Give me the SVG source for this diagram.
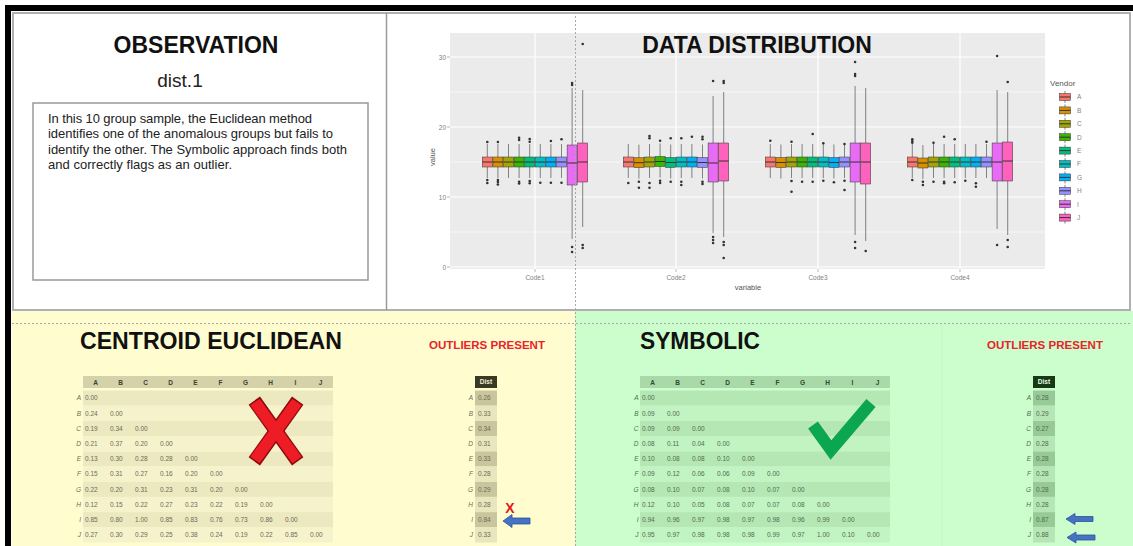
<svg xmlns="http://www.w3.org/2000/svg" xmlns:xlink="http://www.w3.org/1999/xlink" width="1133" height="546" viewBox="0 0 1133 546">
  <style>
    .sans { font-family: "Liberation Sans", Arial, sans-serif; }
    .h1 { font-family: "Liberation Sans", Arial, sans-serif; font-weight: bold; font-size: 23px; fill: #111; }
    .red { font-family: "Liberation Sans", Arial, sans-serif; font-weight: bold; font-size: 11.5px; fill: #E8232A; }
    .body { font-family: "Liberation Sans", Arial, sans-serif; font-size: 13px; fill: #222; }
    .ax { font-family: "Liberation Sans", Arial, sans-serif; font-size: 6.5px; fill: #7f7f7f; }
    .axt { font-family: "Liberation Sans", Arial, sans-serif; font-size: 7.5px; fill: #555555; }
    .gmaj { stroke: #fff; stroke-width: 1.2; }
    .gmin { stroke: #fff; stroke-width: 0.6; }
    .wh { stroke: #555; stroke-width: 0.7; }
    .bxr { stroke: #333; stroke-width: 0.5; }
    .md { stroke: #333; stroke-width: 1; }
    .pt { fill: #333; }
    .val { font-family: "Liberation Sans", Arial, sans-serif; font-size: 6.5px; }
    .rl { font-family: "Liberation Sans", Arial, sans-serif; font-size: 6.5px; font-style: italic; text-anchor: end; }
    .hd { font-family: "Liberation Sans", Arial, sans-serif; font-size: 6.5px; font-weight: bold; text-anchor: middle; }
    .yv { fill: #6e6c58; }
    .gv { fill: #4f6e4f; }
    .arrow { fill: #4472C4; stroke: #2F528F; stroke-width: 0.8; }
    .dot { stroke: #a8a8a8; stroke-width: 1; stroke-dasharray: 2 2; fill: none; }
  </style>
  <defs>
    <!-- standard narrow box: whisker, IQR box and median -->
    <g id="bx">
      <line x1="5" y1="144" x2="5" y2="178" class="wh"/>
      <rect x="0" y="157" width="10" height="10" class="bxr"/>
      <line x1="0" y1="162" x2="10" y2="162" class="md"/>
    </g>
    <g id="key">
      <line x1="5.5" y1="-6" x2="5.5" y2="6" class="wh"/>
      <rect x="0" y="-3.5" width="11" height="7" class="bxr"/>
      <line x1="0" y1="0" x2="11" y2="0" class="md"/>
    </g>
  </defs>

  <!-- page background and frame -->
  <g id="frame">
    <rect x="0" y="0" width="1133" height="546" fill="#fff"/>
    <rect x="13" y="13" width="1117" height="297" fill="#fff" stroke="#b0b0b0" stroke-width="2"/>
    <line x1="386.5" y1="13" x2="386.5" y2="310" stroke="#9a9a9a" stroke-width="1.5"/>
    <rect x="12" y="311" width="563" height="235" fill="#FFFDCF"/>
    <rect x="575" y="311" width="558" height="235" fill="#CCFDCC"/>
    <line x1="942" y1="323" x2="942" y2="546" stroke="#c3f5c3" stroke-width="1"/>
    <rect x="5" y="5" width="1128" height="6" fill="#000"/>
    <rect x="5" y="5" width="6" height="541" fill="#000"/>
  </g>

  <!-- observation panel -->
  <g id="observation">
    <text x="196" y="53" class="h1" text-anchor="middle" font-size="23.5">OBSERVATION</text>
    <text x="180" y="87" class="sans" font-size="19" fill="#222" text-anchor="middle">dist.1</text>
    <rect x="33" y="103" width="335" height="177" fill="#fff" stroke="#999" stroke-width="1.5"/>
    <text class="body" x="48" y="123" textLength="264" lengthAdjust="spacing">In this 10 group sample, the Euclidean method</text>
    <text class="body" x="48" y="138" textLength="285" lengthAdjust="spacing">identifies one of the anomalous groups but fails to</text>
    <text class="body" x="48" y="153.5" textLength="299" lengthAdjust="spacing">identify the other.  The Symbolic approach finds both</text>
    <text class="body" x="48" y="168.5" textLength="184" lengthAdjust="spacing">and correctly flags as an outlier.</text>
  </g>

  <!-- data distribution boxplot chart -->
  <g id="chart">
    <rect x="450" y="33" width="595" height="236" fill="#EBEBEB"/>
    <line x1="450" y1="232" x2="1045" y2="232" class="gmin"/>
    <line x1="450" y1="162" x2="1045" y2="162" class="gmin"/>
    <line x1="450" y1="92" x2="1045" y2="92" class="gmin"/>
    <line x1="450" y1="267" x2="1045" y2="267" class="gmaj"/>
    <line x1="450" y1="197" x2="1045" y2="197" class="gmaj"/>
    <line x1="450" y1="127" x2="1045" y2="127" class="gmaj"/>
    <line x1="450" y1="57" x2="1045" y2="57" class="gmaj"/>
    <line x1="535" y1="33" x2="535" y2="269" class="gmaj"/>
    <line x1="676" y1="33" x2="676" y2="269" class="gmaj"/>
    <line x1="818" y1="33" x2="818" y2="269" class="gmaj"/>
    <line x1="960" y1="33" x2="960" y2="269" class="gmaj"/>
    <!-- axis ticks -->
    <g stroke="#888" stroke-width="0.6">
      <line x1="447" y1="267" x2="450" y2="267"/><line x1="447" y1="197" x2="450" y2="197"/>
      <line x1="447" y1="127" x2="450" y2="127"/><line x1="447" y1="57" x2="450" y2="57"/>
      <line x1="535" y1="269" x2="535" y2="272"/><line x1="676" y1="269" x2="676" y2="272"/>
      <line x1="818" y1="269" x2="818" y2="272"/><line x1="960" y1="269" x2="960" y2="272"/>
    </g>
    <text x="446" y="269.5" class="ax" text-anchor="end">0</text>
    <text x="446" y="199.5" class="ax" text-anchor="end">10</text>
    <text x="446" y="129.5" class="ax" text-anchor="end">20</text>
    <text x="446" y="59.5" class="ax" text-anchor="end">30</text>
    <text x="535" y="280" class="ax" text-anchor="middle">Code1</text>
    <text x="676" y="280" class="ax" text-anchor="middle">Code2</text>
    <text x="818" y="280" class="ax" text-anchor="middle">Code3</text>
    <text x="960" y="280" class="ax" text-anchor="middle">Code4</text>
    <text x="748" y="290" class="axt" text-anchor="middle">variable</text>
    <text x="0" y="0" class="axt" text-anchor="middle" transform="translate(435,157) rotate(-90)">value</text>

    <!-- Code1 -->
    <use xlink:href="#bx" x="482.3" fill="#F8766D"/>
    <use xlink:href="#bx" x="492.9" fill="#D89000"/>
    <use xlink:href="#bx" x="503.5" fill="#A3A500"/>
    <use xlink:href="#bx" x="514.1" fill="#39B600"/>
    <use xlink:href="#bx" x="524.7" fill="#00BF7D"/>
    <use xlink:href="#bx" x="535.3" fill="#00BFC4"/>
    <use xlink:href="#bx" x="545.9" fill="#00B0F6"/>
    <use xlink:href="#bx" x="556.5" fill="#9590FF"/>
    <line x1="572.1" y1="88" x2="572.1" y2="239" class="wh"/>
    <rect x="567.1" y="145" width="10" height="40" fill="#E76BF3" class="bxr"/>
    <line x1="567.1" y1="163" x2="577.1" y2="163" class="md"/>
    <line x1="582.7" y1="90" x2="582.7" y2="227" class="wh"/>
    <rect x="577.7" y="143" width="10" height="39" fill="#FF62BC" class="bxr"/>
    <line x1="577.7" y1="162" x2="587.7" y2="162" class="md"/>
    <g class="pt">
      <circle cx="487.3" cy="142" r="1.3"/><circle cx="487.3" cy="180" r="1.3"/><circle cx="487.3" cy="183" r="1.3"/>
      <circle cx="497.9" cy="142" r="1.3"/><circle cx="497.9" cy="180" r="1.3"/><circle cx="497.9" cy="182" r="1.3"/><circle cx="497.9" cy="184.5" r="1.3"/>
      <circle cx="519.1" cy="137.7" r="1.3"/><circle cx="519.1" cy="140" r="1.3"/><circle cx="519.1" cy="181.7" r="1.3"/><circle cx="519.1" cy="183.5" r="1.3"/>
      <circle cx="529.7" cy="139" r="1.3"/><circle cx="529.7" cy="141.7" r="1.3"/><circle cx="529.7" cy="181" r="1.3"/><circle cx="529.7" cy="183.3" r="1.3"/>
      <circle cx="540.3" cy="182.7" r="1.3"/>
      <circle cx="550.9" cy="141" r="1.3"/><circle cx="550.9" cy="182.7" r="1.3"/>
      <circle cx="561.5" cy="139.3" r="1.3"/><circle cx="561.5" cy="182.7" r="1.3"/>
      <circle cx="572.1" cy="83" r="1.3"/><circle cx="572.1" cy="85" r="1.3"/><circle cx="572.1" cy="247" r="1.3"/><circle cx="572.1" cy="252" r="1.3"/>
      <circle cx="582.7" cy="44" r="1.3"/><circle cx="582.7" cy="245" r="1.3"/><circle cx="582.7" cy="248" r="1.3"/>
    </g>

    <!-- Code2 -->
    <use xlink:href="#bx" x="623.3" fill="#F8766D"/>
    <use xlink:href="#bx" x="633.9" fill="#D89000" y="0.7"/>
    <use xlink:href="#bx" x="644.5" fill="#A3A500"/>
    <use xlink:href="#bx" x="655.1" fill="#39B600" y="-0.5"/>
    <use xlink:href="#bx" x="665.7" fill="#00BF7D" y="0.5"/>
    <use xlink:href="#bx" x="676.3" fill="#00BFC4"/>
    <use xlink:href="#bx" x="686.9" fill="#00B0F6"/>
    <use xlink:href="#bx" x="697.5" fill="#9590FF" y="0.5"/>
    <line x1="713.1" y1="96" x2="713.1" y2="233" class="wh"/>
    <rect x="708.1" y="143" width="10" height="39" fill="#E76BF3" class="bxr"/>
    <line x1="708.1" y1="163" x2="718.1" y2="163" class="md"/>
    <line x1="723.7" y1="92" x2="723.7" y2="237" class="wh"/>
    <rect x="718.7" y="143" width="10" height="38" fill="#FF62BC" class="bxr"/>
    <line x1="718.7" y1="161" x2="728.7" y2="161" class="md"/>
    <g class="pt">
      <circle cx="628.3" cy="183" r="1.3"/>
      <circle cx="638.9" cy="181.7" r="1.3"/><circle cx="638.9" cy="187.7" r="1.3"/>
      <circle cx="649.5" cy="136" r="1.3"/><circle cx="649.5" cy="138.3" r="1.3"/><circle cx="649.5" cy="183" r="1.3"/><circle cx="649.5" cy="187.7" r="1.3"/>
      <circle cx="660.1" cy="140.7" r="1.3"/><circle cx="660.1" cy="180.7" r="1.3"/><circle cx="660.1" cy="183" r="1.3"/>
      <circle cx="670.7" cy="138.3" r="1.3"/><circle cx="670.7" cy="181.7" r="1.3"/>
      <circle cx="681.3" cy="138.3" r="1.3"/><circle cx="681.3" cy="181.7" r="1.3"/><circle cx="681.3" cy="185" r="1.3"/>
      <circle cx="691.9" cy="136.7" r="1.3"/>
      <circle cx="702.5" cy="136.7" r="1.3"/><circle cx="702.5" cy="139.3" r="1.3"/><circle cx="702.5" cy="181.7" r="1.3"/><circle cx="702.5" cy="184" r="1.3"/>
      <circle cx="713.1" cy="81" r="1.3"/><circle cx="713.1" cy="237" r="1.3"/><circle cx="713.1" cy="240" r="1.3"/><circle cx="713.1" cy="243" r="1.3"/>
      <circle cx="723.7" cy="81" r="1.3"/><circle cx="723.7" cy="83" r="1.3"/><circle cx="723.7" cy="242" r="1.3"/><circle cx="723.7" cy="245" r="1.3"/><circle cx="723.7" cy="258" r="1.3"/>
    </g>

    <!-- Code3 -->
    <use xlink:href="#bx" x="765.3" fill="#F8766D"/>
    <use xlink:href="#bx" x="775.9" fill="#D89000" y="0.5"/>
    <use xlink:href="#bx" x="786.5" fill="#A3A500"/>
    <use xlink:href="#bx" x="797.1" fill="#39B600"/>
    <use xlink:href="#bx" x="807.7" fill="#00BF7D"/>
    <use xlink:href="#bx" x="818.3" fill="#00BFC4"/>
    <use xlink:href="#bx" x="828.9" fill="#00B0F6" y="0.5"/>
    <use xlink:href="#bx" x="839.5" fill="#9590FF"/>
    <line x1="855.1" y1="86" x2="855.1" y2="235" class="wh"/>
    <rect x="850.1" y="143" width="10" height="39" fill="#E76BF3" class="bxr"/>
    <line x1="850.1" y1="162" x2="860.1" y2="162" class="md"/>
    <line x1="865.7" y1="88" x2="865.7" y2="241" class="wh"/>
    <rect x="860.7" y="143" width="10" height="41" fill="#FF62BC" class="bxr"/>
    <line x1="860.7" y1="162" x2="870.7" y2="162" class="md"/>
    <g class="pt">
      <circle cx="770.3" cy="140.7" r="1.3"/>
      <circle cx="791.5" cy="141.7" r="1.3"/><circle cx="791.5" cy="181" r="1.3"/><circle cx="791.5" cy="191.7" r="1.3"/>
      <circle cx="802.1" cy="181.7" r="1.3"/>
      <circle cx="812.7" cy="134" r="1.3"/><circle cx="812.7" cy="181.7" r="1.3"/>
      <circle cx="823.3" cy="143.3" r="1.3"/><circle cx="823.3" cy="180.7" r="1.3"/>
      <circle cx="833.9" cy="182.3" r="1.3"/>
      <circle cx="844.5" cy="144" r="1.3"/><circle cx="844.5" cy="180.7" r="1.3"/><circle cx="844.5" cy="190" r="1.3"/>
      <circle cx="855.1" cy="62" r="1.3"/><circle cx="855.1" cy="74" r="1.3"/><circle cx="855.1" cy="76" r="1.3"/><circle cx="855.1" cy="242" r="1.3"/><circle cx="855.1" cy="248" r="1.3"/>
      <circle cx="865.7" cy="251" r="1.3"/>
    </g>

    <!-- Code4 -->
    <use xlink:href="#bx" x="907.3" fill="#F8766D"/>
    <use xlink:href="#bx" x="917.9" fill="#D89000" y="1"/>
    <use xlink:href="#bx" x="928.5" fill="#A3A500"/>
    <use xlink:href="#bx" x="939.1" fill="#39B600"/>
    <use xlink:href="#bx" x="949.7" fill="#00BF7D"/>
    <use xlink:href="#bx" x="960.3" fill="#00BFC4"/>
    <use xlink:href="#bx" x="970.9" fill="#00B0F6"/>
    <use xlink:href="#bx" x="981.5" fill="#9590FF"/>
    <line x1="997.1" y1="90" x2="997.1" y2="229" class="wh"/>
    <rect x="992.1" y="143" width="10" height="38" fill="#E76BF3" class="bxr"/>
    <line x1="992.1" y1="162" x2="1002.1" y2="162" class="md"/>
    <line x1="1007.7" y1="92" x2="1007.7" y2="235" class="wh"/>
    <rect x="1002.7" y="142" width="10" height="39" fill="#FF62BC" class="bxr"/>
    <line x1="1002.7" y1="161" x2="1012.7" y2="161" class="md"/>
    <g class="pt">
      <circle cx="912.3" cy="139.3" r="1.3"/><circle cx="912.3" cy="141" r="1.3"/><circle cx="912.3" cy="142.7" r="1.3"/><circle cx="912.3" cy="180" r="1.3"/>
      <circle cx="922.9" cy="181.7" r="1.3"/><circle cx="922.9" cy="185" r="1.3"/>
      <circle cx="933.5" cy="142.7" r="1.3"/><circle cx="933.5" cy="181.7" r="1.3"/>
      <circle cx="944.1" cy="136.7" r="1.3"/><circle cx="944.1" cy="181.7" r="1.3"/><circle cx="944.1" cy="183.3" r="1.3"/>
      <circle cx="954.7" cy="139.3" r="1.3"/><circle cx="954.7" cy="182.3" r="1.3"/>
      <circle cx="965.3" cy="180.7" r="1.3"/>
      <circle cx="975.9" cy="183.3" r="1.3"/><circle cx="975.9" cy="186.7" r="1.3"/>
      <circle cx="986.5" cy="141.7" r="1.3"/>
      <circle cx="997.1" cy="56" r="1.3"/><circle cx="997.1" cy="245" r="1.3"/>
      <circle cx="1007.7" cy="82" r="1.3"/><circle cx="1007.7" cy="240" r="1.3"/><circle cx="1007.7" cy="247" r="1.3"/>
    </g>

    <text x="757" y="53" class="h1" text-anchor="middle">DATA DISTRIBUTION</text>

    <!-- legend -->
    <text x="1050" y="86" class="sans" font-size="8" fill="#555">Vendor</text>
    <use xlink:href="#key" x="1059.5" y="97" fill="#F8766D"/>
    <use xlink:href="#key" x="1059.5" y="110.4" fill="#D89000"/>
    <use xlink:href="#key" x="1059.5" y="123.8" fill="#A3A500"/>
    <use xlink:href="#key" x="1059.5" y="137.2" fill="#39B600"/>
    <use xlink:href="#key" x="1059.5" y="150.6" fill="#00BF7D"/>
    <use xlink:href="#key" x="1059.5" y="164" fill="#00BFC4"/>
    <use xlink:href="#key" x="1059.5" y="177.4" fill="#00B0F6"/>
    <use xlink:href="#key" x="1059.5" y="190.8" fill="#9590FF"/>
    <use xlink:href="#key" x="1059.5" y="204.2" fill="#E76BF3"/>
    <use xlink:href="#key" x="1059.5" y="217.6" fill="#FF62BC"/>
    <g class="ax" fill="#666">
      <text x="1077" y="99.3">A</text><text x="1077" y="112.7">B</text><text x="1077" y="126.1">C</text>
      <text x="1077" y="139.5">D</text><text x="1077" y="152.9">E</text><text x="1077" y="166.3">F</text>
      <text x="1077" y="179.7">G</text><text x="1077" y="193.1">H</text><text x="1077" y="206.5">I</text>
      <text x="1077" y="219.9">J</text>
    </g>
  </g>

  <!-- panel separators -->
  <g id="separators">
    <line x1="12" y1="323.5" x2="1130" y2="323.5" class="dot"/>
    <line x1="575.5" y1="12" x2="575.5" y2="546" class="dot"/>
  </g>

  <!-- centroid euclidean panel -->
  <g id="euclidean">
    <text x="80" y="349" class="h1" textLength="262" lengthAdjust="spacingAndGlyphs">CENTROID EUCLIDEAN</text>
    <text x="429" y="349" class="red" textLength="116" lengthAdjust="spacingAndGlyphs">OUTLIERS PRESENT</text>
    <!-- distance matrix -->
    <rect x="83" y="376" width="250" height="12" fill="#D5D1A8"/>
    <g fill="#ECE8BF">
      <rect x="83" y="390.5" width="250" height="15.2"/><rect x="83" y="420.9" width="250" height="15.2"/>
      <rect x="83" y="451.3" width="250" height="15.2"/><rect x="83" y="481.7" width="250" height="15.2"/>
      <rect x="83" y="512.1" width="250" height="15.2"/>
    </g>
    <g fill="#F6F3CC">
      <rect x="83" y="405.7" width="250" height="15.2"/><rect x="83" y="436.1" width="250" height="15.2"/>
      <rect x="83" y="466.5" width="250" height="15.2"/><rect x="83" y="496.9" width="250" height="15.2"/>
      <rect x="83" y="527.3" width="250" height="15.2"/>
    </g>
    <g class="hd" fill="#3e3d30">
      <text x="95.5" y="384.5">A</text><text x="120.5" y="384.5">B</text><text x="145.5" y="384.5">C</text>
      <text x="170.5" y="384.5">D</text><text x="195.5" y="384.5">E</text><text x="220.5" y="384.5">F</text>
      <text x="245.5" y="384.5">G</text><text x="270.5" y="384.5">H</text><text x="295.5" y="384.5">I</text>
      <text x="320.5" y="384.5">J</text>
    </g>
    <g class="rl yv">
      <text x="81" y="400.4">A</text><text x="81" y="415.6">B</text><text x="81" y="430.8">C</text>
      <text x="81" y="446">D</text><text x="81" y="461.2">E</text><text x="81" y="476.4">F</text>
      <text x="81" y="491.6">G</text><text x="81" y="506.8">H</text><text x="81" y="522">I</text>
      <text x="81" y="537.2">J</text>
    </g>
    <g class="val yv">
      <text y="400.4"><tspan x="85">0.00</tspan></text>
      <text y="415.6"><tspan x="85">0.24</tspan><tspan x="110">0.00</tspan></text>
      <text y="430.8"><tspan x="85">0.19</tspan><tspan x="110">0.34</tspan><tspan x="135">0.00</tspan></text>
      <text y="446"><tspan x="85">0.21</tspan><tspan x="110">0.37</tspan><tspan x="135">0.20</tspan><tspan x="160">0.00</tspan></text>
      <text y="461.2"><tspan x="85">0.13</tspan><tspan x="110">0.30</tspan><tspan x="135">0.28</tspan><tspan x="160">0.28</tspan><tspan x="185">0.00</tspan></text>
      <text y="476.4"><tspan x="85">0.15</tspan><tspan x="110">0.31</tspan><tspan x="135">0.27</tspan><tspan x="160">0.16</tspan><tspan x="185">0.20</tspan><tspan x="210">0.00</tspan></text>
      <text y="491.6"><tspan x="85">0.22</tspan><tspan x="110">0.20</tspan><tspan x="135">0.31</tspan><tspan x="160">0.23</tspan><tspan x="185">0.31</tspan><tspan x="210">0.20</tspan><tspan x="235">0.00</tspan></text>
      <text y="506.8"><tspan x="85">0.12</tspan><tspan x="110">0.15</tspan><tspan x="135">0.22</tspan><tspan x="160">0.27</tspan><tspan x="185">0.23</tspan><tspan x="210">0.22</tspan><tspan x="235">0.19</tspan><tspan x="260">0.00</tspan></text>
      <text y="522"><tspan x="85">0.85</tspan><tspan x="110">0.80</tspan><tspan x="135">1.00</tspan><tspan x="160">0.85</tspan><tspan x="185">0.83</tspan><tspan x="210">0.76</tspan><tspan x="235">0.73</tspan><tspan x="260">0.86</tspan><tspan x="285">0.00</tspan></text>
      <text y="537.2"><tspan x="85">0.27</tspan><tspan x="110">0.30</tspan><tspan x="135">0.29</tspan><tspan x="160">0.25</tspan><tspan x="185">0.38</tspan><tspan x="210">0.24</tspan><tspan x="235">0.19</tspan><tspan x="260">0.22</tspan><tspan x="285">0.85</tspan><tspan x="310">0.00</tspan></text>
    </g>
    <!-- big cross -->
    <g stroke-linecap="butt">
      <line x1="254.3" y1="400.6" x2="297.7" y2="461.4" stroke="#8a0a0a" stroke-width="14"/>
      <line x1="297.7" y1="400.6" x2="254.3" y2="461.4" stroke="#8a0a0a" stroke-width="14"/>
      <line x1="255" y1="402" x2="297" y2="460" stroke="#EE1C24" stroke-width="11.5"/>
      <line x1="297" y1="402" x2="255" y2="460" stroke="#EE1C24" stroke-width="11.5"/>
    </g>
    <!-- distance column -->
    <rect x="475" y="376" width="22" height="12" fill="#3a3924"/>
    <text x="486" y="384.3" class="hd" fill="#f4f1d8">Dist</text>
    <g fill="#C9C59C">
      <rect x="475" y="390.5" width="22" height="15.2"/><rect x="475" y="420.9" width="22" height="15.2"/>
      <rect x="475" y="451.3" width="22" height="15.2"/><rect x="475" y="481.7" width="22" height="15.2"/>
      <rect x="475" y="512.1" width="22" height="15.2"/>
    </g>
    <g fill="#E9E5BC">
      <rect x="475" y="405.7" width="22" height="15.2"/><rect x="475" y="436.1" width="22" height="15.2"/>
      <rect x="475" y="466.5" width="22" height="15.2"/><rect x="475" y="496.9" width="22" height="15.2"/>
      <rect x="475" y="527.3" width="22" height="15.2"/>
    </g>
    <g class="rl yv">
      <text x="473" y="400.4">A</text><text x="473" y="415.6">B</text><text x="473" y="430.8">C</text>
      <text x="473" y="446">D</text><text x="473" y="461.2">E</text><text x="473" y="476.4">F</text>
      <text x="473" y="491.6">G</text><text x="473" y="506.8">H</text><text x="473" y="522">I</text>
      <text x="473" y="537.2">J</text>
    </g>
    <g class="val yv">
      <text x="478" y="400.4">0.26</text><text x="478" y="415.6">0.33</text><text x="478" y="430.8">0.34</text>
      <text x="478" y="446">0.31</text><text x="478" y="461.2">0.33</text><text x="478" y="476.4">0.28</text>
      <text x="478" y="491.6">0.29</text><text x="478" y="506.8">0.28</text><text x="478" y="522">0.84</text>
      <text x="478" y="537.2">0.33</text>
    </g>
    <text x="510" y="512.5" class="sans" font-weight="bold" font-size="14" fill="#E8141B" text-anchor="middle">X</text>
  </g>

  <!-- symbolic panel -->
  <g id="symbolic">
    <text x="640" y="349" class="h1" textLength="120" lengthAdjust="spacingAndGlyphs">SYMBOLIC</text>
    <text x="987" y="349" class="red" textLength="116" lengthAdjust="spacingAndGlyphs">OUTLIERS PRESENT</text>
    <rect x="640" y="376" width="250" height="12" fill="#A9D9A9"/>
    <g fill="#B5E7B5">
      <rect x="640" y="390.5" width="250" height="15.2"/><rect x="640" y="420.9" width="250" height="15.2"/>
      <rect x="640" y="451.3" width="250" height="15.2"/><rect x="640" y="481.7" width="250" height="15.2"/>
      <rect x="640" y="512.1" width="250" height="15.2"/>
    </g>
    <g fill="#C2F3C2">
      <rect x="640" y="405.7" width="250" height="15.2"/><rect x="640" y="436.1" width="250" height="15.2"/>
      <rect x="640" y="466.5" width="250" height="15.2"/><rect x="640" y="496.9" width="250" height="15.2"/>
      <rect x="640" y="527.3" width="250" height="15.2"/>
    </g>
    <g class="hd" fill="#2f4a2f">
      <text x="652.5" y="384.5">A</text><text x="677.5" y="384.5">B</text><text x="702.5" y="384.5">C</text>
      <text x="727.5" y="384.5">D</text><text x="752.5" y="384.5">E</text><text x="777.5" y="384.5">F</text>
      <text x="802.5" y="384.5">G</text><text x="827.5" y="384.5">H</text><text x="852.5" y="384.5">I</text>
      <text x="877.5" y="384.5">J</text>
    </g>
    <g class="rl gv">
      <text x="638.5" y="400.4">A</text><text x="638.5" y="415.6">B</text><text x="638.5" y="430.8">C</text>
      <text x="638.5" y="446">D</text><text x="638.5" y="461.2">E</text><text x="638.5" y="476.4">F</text>
      <text x="638.5" y="491.6">G</text><text x="638.5" y="506.8">H</text><text x="638.5" y="522">I</text>
      <text x="638.5" y="537.2">J</text>
    </g>
    <g class="val gv">
      <text y="400.4"><tspan x="642">0.00</tspan></text>
      <text y="415.6"><tspan x="642">0.09</tspan><tspan x="667">0.00</tspan></text>
      <text y="430.8"><tspan x="642">0.09</tspan><tspan x="667">0.09</tspan><tspan x="692">0.00</tspan></text>
      <text y="446"><tspan x="642">0.08</tspan><tspan x="667">0.11</tspan><tspan x="692">0.04</tspan><tspan x="717">0.00</tspan></text>
      <text y="461.2"><tspan x="642">0.10</tspan><tspan x="667">0.08</tspan><tspan x="692">0.08</tspan><tspan x="717">0.10</tspan><tspan x="742">0.00</tspan></text>
      <text y="476.4"><tspan x="642">0.09</tspan><tspan x="667">0.12</tspan><tspan x="692">0.06</tspan><tspan x="717">0.06</tspan><tspan x="742">0.09</tspan><tspan x="767">0.00</tspan></text>
      <text y="491.6"><tspan x="642">0.08</tspan><tspan x="667">0.10</tspan><tspan x="692">0.07</tspan><tspan x="717">0.08</tspan><tspan x="742">0.10</tspan><tspan x="767">0.07</tspan><tspan x="792">0.00</tspan></text>
      <text y="506.8"><tspan x="642">0.12</tspan><tspan x="667">0.10</tspan><tspan x="692">0.05</tspan><tspan x="717">0.08</tspan><tspan x="742">0.07</tspan><tspan x="767">0.07</tspan><tspan x="792">0.08</tspan><tspan x="817">0.00</tspan></text>
      <text y="522"><tspan x="642">0.94</tspan><tspan x="667">0.96</tspan><tspan x="692">0.97</tspan><tspan x="717">0.98</tspan><tspan x="742">0.97</tspan><tspan x="767">0.98</tspan><tspan x="792">0.96</tspan><tspan x="817">0.99</tspan><tspan x="842">0.00</tspan></text>
      <text y="537.2"><tspan x="642">0.95</tspan><tspan x="667">0.97</tspan><tspan x="692">0.98</tspan><tspan x="717">0.98</tspan><tspan x="742">0.98</tspan><tspan x="767">0.99</tspan><tspan x="792">0.97</tspan><tspan x="817">1.00</tspan><tspan x="842">0.10</tspan><tspan x="867">0.00</tspan></text>
    </g>
    <!-- big tick -->
    <polyline points="813,425 831,450 871,403" fill="none" stroke="#0BA64F" stroke-width="12" stroke-linejoin="miter" stroke-miterlimit="10"/>
    <!-- distance column -->
    <rect x="1033" y="376" width="22" height="12" fill="#163a16"/>
    <text x="1044" y="384.3" class="hd" fill="#e8ffe8">Dist</text>
    <g fill="#97CA97">
      <rect x="1033" y="390.5" width="22" height="15.2"/><rect x="1033" y="420.9" width="22" height="15.2"/>
      <rect x="1033" y="451.3" width="22" height="15.2"/><rect x="1033" y="481.7" width="22" height="15.2"/>
      <rect x="1033" y="512.1" width="22" height="15.2"/>
    </g>
    <g fill="#B6E6B6">
      <rect x="1033" y="405.7" width="22" height="15.2"/><rect x="1033" y="436.1" width="22" height="15.2"/>
      <rect x="1033" y="466.5" width="22" height="15.2"/><rect x="1033" y="496.9" width="22" height="15.2"/>
      <rect x="1033" y="527.3" width="22" height="15.2"/>
    </g>
    <g class="rl gv">
      <text x="1031" y="400.4">A</text><text x="1031" y="415.6">B</text><text x="1031" y="430.8">C</text>
      <text x="1031" y="446">D</text><text x="1031" y="461.2">E</text><text x="1031" y="476.4">F</text>
      <text x="1031" y="491.6">G</text><text x="1031" y="506.8">H</text><text x="1031" y="522">I</text>
      <text x="1031" y="537.2">J</text>
    </g>
    <g class="val gv">
      <text x="1036" y="400.4">0.28</text><text x="1036" y="415.6">0.29</text><text x="1036" y="430.8">0.27</text>
      <text x="1036" y="446">0.28</text><text x="1036" y="461.2">0.28</text><text x="1036" y="476.4">0.28</text>
      <text x="1036" y="491.6">0.28</text><text x="1036" y="506.8">0.28</text><text x="1036" y="522">0.87</text>
      <text x="1036" y="537.2">0.88</text>
    </g>
  </g>

  <!-- pointer arrows -->
  <g id="pointers">
    <polygon class="arrow" points="503,521 512,514.5 512,518 530,518 530,524 512,524 512,527.5"/>
    <polygon class="arrow" points="1066,519 1075,513.5 1075,516.5 1093,516.5 1093,521.5 1075,521.5 1075,524.5"/>
    <polygon class="arrow" points="1067,537.5 1076,532 1076,535 1095,535 1095,540 1076,540 1076,543"/>
  </g>
</svg>
